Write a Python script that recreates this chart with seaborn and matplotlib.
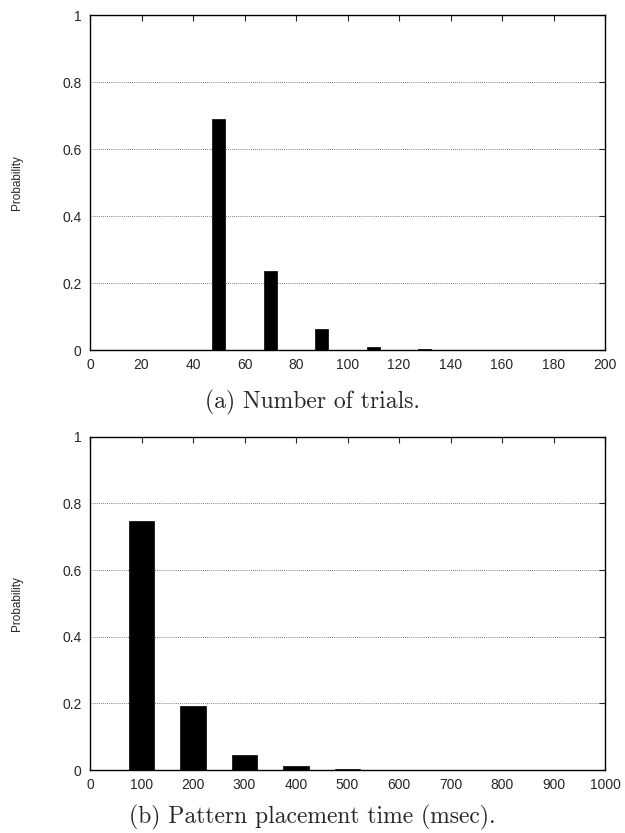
import matplotlib
matplotlib.use("Agg")
import matplotlib.pyplot as plt
import seaborn as sns
import pandas as pd

# Data
trials_x = [50, 70, 90, 110, 130]
trials_p = [0.69, 0.236, 0.063, 0.010, 0.004]
time_x = [100, 200, 300, 400, 500]
time_p = [0.748, 0.193, 0.046, 0.013, 0.002]
y_ticks = [0, 0.2, 0.4, 0.6, 0.8, 1]
x_ticks_a = [0, 20, 40, 60, 80, 100, 120, 140, 160, 180, 200]
x_ticks_b = [0, 100, 200, 300, 400, 500, 600, 700, 800, 900, 1000]
caption_a = "(a) Number of trials."
caption_b = "(b) Pattern placement time (msec)."
ylabel = "Probability"

sns.set_style("white")
plt.rcParams['font.family'] = ['Liberation Sans', 'DejaVu Sans']

fig = plt.figure(figsize=(6.25, 8.33), dpi=100)
ax1 = fig.add_axes([0.144, 0.5798, 0.824, 0.402])
ax2 = fig.add_axes([0.144, 0.0756, 0.824, 0.400])

def style(ax, xs, ps, xticks, xmax, width, caption, cap_y):
    df = pd.DataFrame({"x": xs, "p": ps})
    sns.barplot(data=df, x="x", y="p", native_scale=True, width=width,
                color="black", edgecolor="black", linewidth=0.5, ax=ax,
                errorbar=None, saturation=1)
    ax.set_xlim(0, xmax)
    ax.set_ylim(0, 1)
    ax.set_xticks(xticks)
    ax.set_xticklabels([str(t) for t in xticks])
    ax.set_yticks(y_ticks)
    ax.set_yticklabels(["0", "0.2", "0.4", "0.6", "0.8", "1"])
    for yv in y_ticks[1:-1]:
        ax.axhline(yv, color="#555555", linestyle=(0, (1, 1.5)), linewidth=0.6, zorder=0)
    ax.tick_params(axis="both", direction="in", length=4, width=0.8,
                   labelsize=10, top=True, right=True, pad=6)
    for s in ax.spines.values():
        s.set_linewidth(1.0)
        s.set_color("black")
    ax.set_xlabel("")
    ax.set_ylabel(ylabel, fontsize=8.5)
    ax.yaxis.set_label_coords(-0.13, 0.5)
    fig.text(0.5, cap_y, caption, ha="center", va="center",
             fontsize=17, family=["cmr10", "DejaVu Serif"])

style(ax1, trials_x, trials_p, x_ticks_a, 200, 0.25, caption_a, 1 - 402 / 833)
style(ax2, time_x, time_p, x_ticks_b, 1000, 0.5, caption_b, 1 - 817 / 833)

fig.savefig("out.png", dpi=100)
